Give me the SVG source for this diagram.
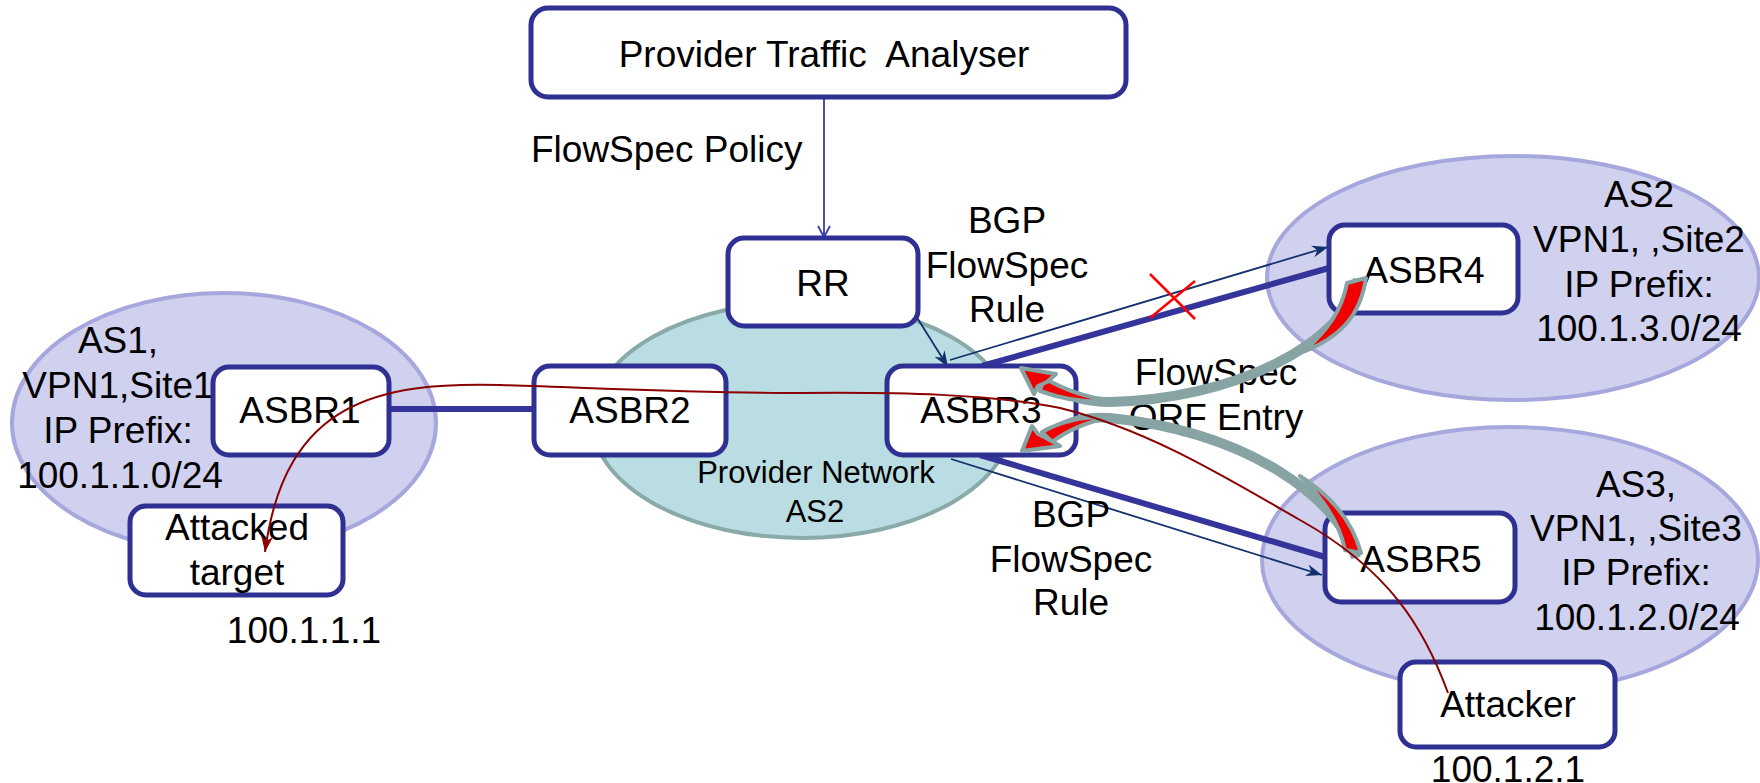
<svg xmlns="http://www.w3.org/2000/svg" width="1760" height="783" viewBox="0 0 1760 783">
<style>
text{font-family:"Liberation Sans",Arial,sans-serif;font-size:37px;fill:#000;white-space:pre;}
.c{text-anchor:middle;}
.box{fill:#fff;stroke:#2e3192;stroke-width:5;}
.as{fill:#d0d1ef;stroke:#a6a7dd;stroke-width:4;}
.thick{stroke:#34349a;stroke-width:6;fill:none;}
.thin{stroke:#13306e;stroke-width:1.8;fill:none;}
.band{stroke:#87a3a3;stroke-width:10;fill:none;}
.rf{fill:#f00000;stroke:#87a3a3;stroke-width:4;stroke-linejoin:round;}
</style>
<defs>
<marker id="open" markerUnits="userSpaceOnUse" markerWidth="14" markerHeight="14" refX="12" refY="7" orient="auto">
<path d="M1,1 L12,7 L1,13" fill="none" stroke="#3b3ba6" stroke-width="1.8"/>
</marker>
<marker id="navy" markerUnits="userSpaceOnUse" markerWidth="18" markerHeight="14" refX="16" refY="7" orient="auto">
<path d="M0,1 L16,7 L0,13 L5,7 Z" fill="#13306e"/>
</marker>
<marker id="red" markerUnits="userSpaceOnUse" markerWidth="18" markerHeight="14" refX="16" refY="7" orient="auto">
<path d="M0,1 L16,7 L0,13 L5,7 Z" fill="#8b0000"/>
</marker>
</defs>

<g id="AS1">
<ellipse class="as" cx="224" cy="423" rx="212" ry="130"/>
<text class="c" x="118" y="353">AS1,</text>
<text class="c" x="118" y="398">VPN1,Site1</text>
<text class="c" x="118" y="443">IP Prefix:</text>
<text class="c" x="120" y="488">100.1.1.0/24</text>
</g>
<g id="ProviderNetwork">
<ellipse cx="802" cy="420" rx="210" ry="118" fill="#b9dde3" stroke="#8aa9a9" stroke-width="4"/>
<text class="c" x="816" y="483" style="font-size:31px">Provider Network</text>
<text class="c" x="815" y="522" style="font-size:31px">AS2</text>
</g>
<g id="AS2">
<ellipse class="as" cx="1513" cy="278" rx="246" ry="122"/>
<text class="c" x="1639" y="207">AS2</text>
<text class="c" x="1639" y="252">VPN1, ,Site2</text>
<text class="c" x="1639" y="297">IP Prefix:</text>
<text class="c" x="1639" y="341">100.1.3.0/24</text>
</g>
<g id="AS3">
<ellipse class="as" cx="1510" cy="560" rx="248" ry="133"/>
<text class="c" x="1636" y="497">AS3,</text>
<text class="c" x="1636" y="541">VPN1, ,Site3</text>
<text class="c" x="1636" y="585">IP Prefix:</text>
<text class="c" x="1637" y="630">100.1.2.0/24</text>
</g>

<g id="connectors">
<line class="thick" x1="389" y1="409" x2="534" y2="409"/>
<line class="thick" x1="982" y1="366" x2="1329" y2="268"/>
<line class="thick" x1="980" y1="455" x2="1325" y2="557"/>
<line x1="824" y1="97" x2="824" y2="237" stroke="#3b3ba6" stroke-width="1.8" marker-end="url(#open)"/>
<line class="thin" x1="916" y1="316" x2="948" y2="367" marker-end="url(#navy)"/>
<line class="thin" x1="950" y1="360" x2="1328" y2="247" marker-end="url(#navy)"/>
<line class="thin" x1="951" y1="459" x2="1322" y2="575" marker-end="url(#navy)"/>
</g>

<g id="Analyser">
<rect class="box" x="531" y="8" width="595" height="89" rx="17"/>
<text class="c" x="824" y="67" xml:space="preserve">Provider Traffic  Analyser</text>
</g>
<text x="531" y="162">FlowSpec Policy</text>
<g id="RR">
<rect class="box" x="728" y="238" width="190" height="88" rx="16"/>
<text class="c" x="823" y="296">RR</text>
</g>
<g id="ASBR1">
<rect class="box" x="213" y="367" width="176" height="88" rx="16"/>
<text class="c" x="300" y="423">ASBR1</text>
</g>
<g id="ASBR2">
<rect class="box" x="534" y="366" width="192" height="89" rx="16"/>
<text class="c" x="630" y="423">ASBR2</text>
</g>
<g id="ASBR3">
<rect class="box" x="887" y="366" width="189" height="89" rx="16"/>
<text class="c" x="981" y="423">ASBR3</text>
</g>
<g id="ASBR4">
<rect class="box" x="1329" y="225" width="189" height="88" rx="16"/>
<text class="c" x="1424" y="283">ASBR4</text>
</g>
<g id="ASBR5">
<rect class="box" x="1325" y="513" width="190" height="89" rx="16"/>
<text class="c" x="1421" y="572">ASBR5</text>
</g>
<g id="AttackedTarget">
<rect class="box" x="130" y="506" width="213" height="89" rx="16"/>
<text class="c" x="237" y="540">Attacked</text>
<text class="c" x="237" y="585">target</text>
</g>
<text class="c" x="304" y="643">100.1.1.1</text>
<g id="Attacker">
<rect class="box" x="1400" y="662" width="215" height="85" rx="16"/>
<text class="c" x="1508" y="717">Attacker</text>
</g>
<text class="c" x="1508" y="782">100.1.2.1</text>

<text class="c" x="1007" y="233">BGP</text>
<text class="c" x="1007" y="278">FlowSpec</text>
<text class="c" x="1007" y="322">Rule</text>
<text class="c" x="1071" y="527">BGP</text>
<text class="c" x="1071" y="572">FlowSpec</text>
<text class="c" x="1071" y="615">Rule</text>
<text class="c" x="1216" y="385">FlowSpec</text>
<text class="c" x="1216" y="430">ORF Entry</text>

<g id="cross">
<line x1="1150" y1="274" x2="1195" y2="319" stroke="#ff0000" stroke-width="2.5"/>
<line x1="1195" y1="281" x2="1150" y2="318" stroke="#ff0000" stroke-width="2.5"/>
</g>

<g id="orf-arrows">
<path class="band" d="M1358,279 C1345,345 1230,400 1110,402 C1085,402 1068,396 1050,386"/>
<path class="rf" d="M1347,283 L1366,278 C1360,318 1338,338 1303,352 C1328,330 1342,310 1347,283 Z"/>
<path class="rf" d="M1044,378 C1068,392 1090,398 1112,401 C1090,403 1065,400 1040,391 Z"/>
<path class="rf" d="M1021,368 L1056,374 L1047,382 L1038,386 L1034,394 Z"/>
<path class="band" d="M1356,558 C1340,500 1250,432 1110,418 C1085,416 1068,422 1052,432"/>
<path class="rf" d="M1300,476 C1330,495 1352,520 1361,553 L1345,550 C1340,525 1325,500 1300,476 Z"/>
<path class="rf" d="M1042,432 C1062,421 1086,416 1112,417 C1090,421 1068,430 1052,442 Z"/>
<path class="rf" d="M1022,451 L1032,426 L1038,434 L1046,438 L1060,446 Z"/>
</g>

<path id="attack" d="M1448,693 C1425,630 1390,570 1300,520 C1230,480 1150,430 1060,408 C990,394 900,392 800,393 C700,393 600,388 500,385 C380,382 285,400 265,552" fill="none" stroke="#8b0000" stroke-width="2" marker-end="url(#red)"/>
</svg>
